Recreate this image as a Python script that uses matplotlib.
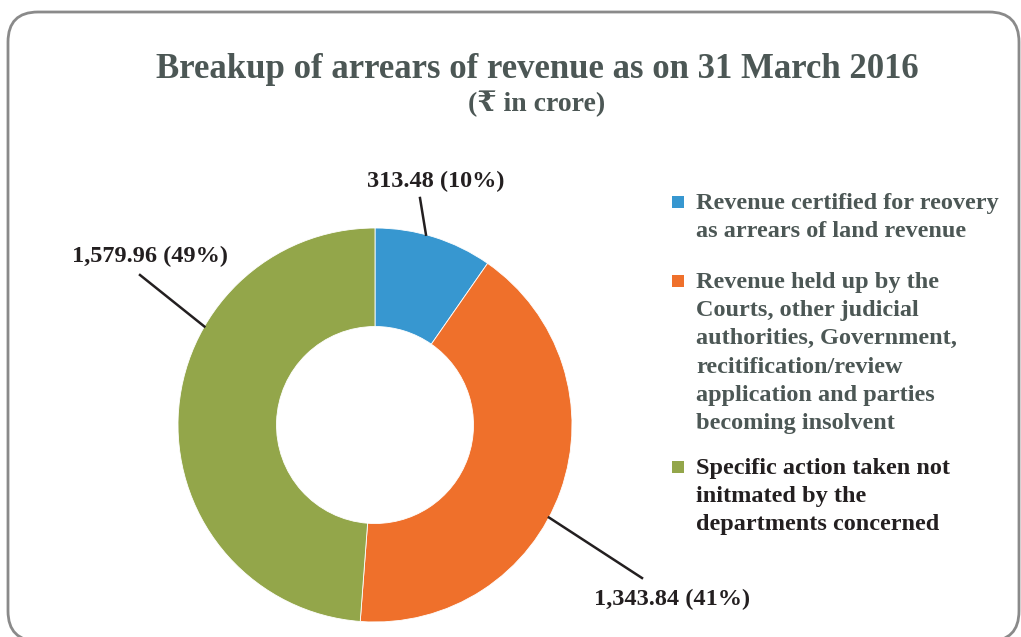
import matplotlib.pyplot as plt
import numpy as np
from matplotlib.patches import FancyBboxPatch, Rectangle

categories = [
    "Revenue certified for reovery\nas arrears of land revenue",
    "Revenue held up by the\nCourts, other judicial\nauthorities, Government,\nrecitification/review\napplication and parties\nbecoming insolvent",
    "Specific action taken not\ninitmated by the\ndepartments concerned",
]
values = [313.48, 1343.84, 1579.96]
value_labels = ["313.48 (10%)", "1,343.84 (41%)", "1,579.96 (49%)"]
colors = ["#3797d0", "#ef702b", "#93a64a"]
legend_text_colors = ["#4c5755", "#4c5755", "#231f20"]

W, H = 1021, 637
serif = ["Liberation Serif", "DejaVu Serif", "DejaVu Sans"]

fig = plt.figure(figsize=(W / 100, H / 100), dpi=100)
ax = fig.add_axes([0, 0, 1, 1])

cx, cy, R = 375, H - 425, 197
wedges, _ = ax.pie(values, colors=colors, startangle=90, counterclock=False,
                   radius=R, center=(cx, cy),
                   wedgeprops=dict(width=R * 0.5, edgecolor="white", linewidth=0.6))
ax.set_xlim(0, W)
ax.set_ylim(0, H)
ax.set_aspect("equal")
ax.axis("off")

# rounded frame
frame = FancyBboxPatch((8, -4), 1011, H - 12 + 4, boxstyle="round,pad=0,rounding_size=30",
                       fill=False, edgecolor="#8a8a8a", linewidth=2, clip_on=False)
ax.add_patch(frame)

# titles
ax.text(537, H - 70, "Breakup of arrears of revenue as on 31 March 2016", ha="center", va="center",
        fontsize=25, fontweight="bold", family=serif, color="#4c5755")
ax.text(537, H - 104, "(\u20b9 in crore)", ha="center", va="center",
        fontsize=20, fontweight="bold", family=serif, color="#4c5755")

# data labels with leader lines (anchor angle on outer edge, line start, label centre)
anchor_angles = [75, -28, 150]
line_starts = [(420, 198), (642, 578), (140, 275)]
label_pos = [(436, 181), (672, 599), (150, 256)]
for ang, (lx, ly), (tx, ty), lab in zip(anchor_angles, line_starts, label_pos, value_labels):
    ex = cx + R * np.cos(np.radians(ang))
    ey = cy + R * np.sin(np.radians(ang))
    ax.plot([lx, ex], [H - ly, ey], color="#231f20", lw=1.8)
    ax.text(tx, H - ty, lab, ha="center", va="center", fontsize=17.5,
            fontweight="bold", family=serif, color="#231f20")

# legend (first line centres)
legend_first = [201, 280, 466]
for cat, col, tcol, yc in zip(categories, colors, legend_text_colors, legend_first):
    ax.add_patch(Rectangle((672, H - yc - 7), 12, 12, facecolor=col, edgecolor="none"))
    ax.text(696, H - yc + 8, cat, ha="left", va="top", fontsize=17.5, fontweight="bold",
            family=serif, color=tcol, linespacing=1.45)

fig.savefig("out.png", dpi=100)
